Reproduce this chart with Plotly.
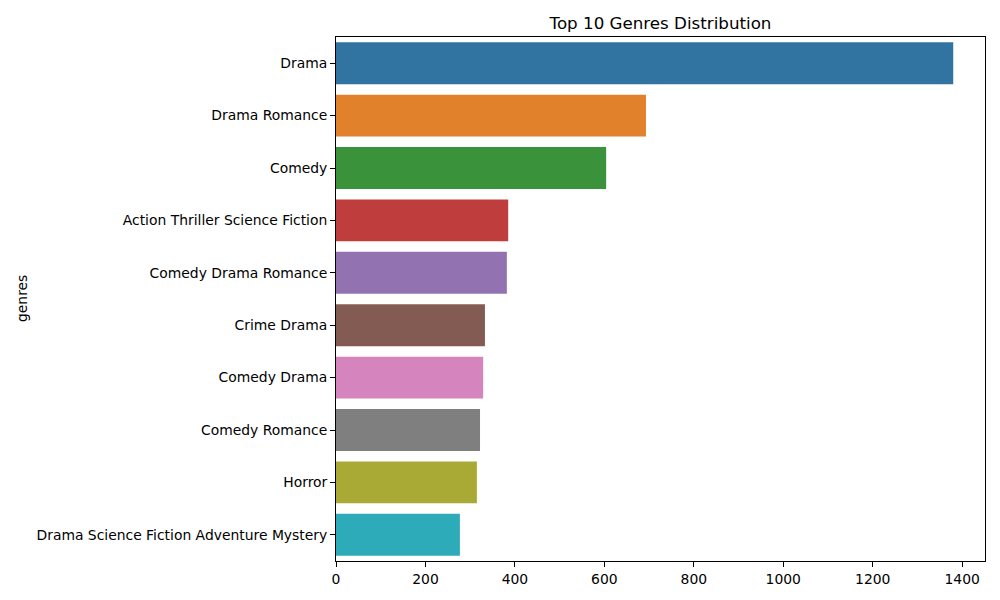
import plotly.graph_objects as go

genres = ["Drama", "Drama Romance", "Comedy", "Action Thriller Science Fiction",
          "Comedy Drama Romance", "Crime Drama", "Comedy Drama", "Comedy Romance",
          "Horror", "Drama Science Fiction Adventure Mystery"]
counts = [1380, 693, 604, 385, 382, 333, 329, 322, 315, 277]
colors = ["#3274a1", "#e1812c", "#3a923a", "#c03d3e", "#9372b2",
          "#845b53", "#d684bd", "#7f7f7f", "#a9aa35", "#2eabb8"]
x_ticks = [0, 200, 400, 600, 800, 1000, 1200, 1400]

fig = go.Figure(go.Bar(
    x=counts, y=genres, orientation="h",
    marker=dict(color=colors, line=dict(width=0)),
    width=0.8,
))

font = "DejaVu Sans"
# page body has an 8px default margin, so shrink figure accordingly
fig.update_layout(
    width=992, height=592,
    margin=dict(l=328, r=15, t=29, b=39, autoexpand=False),
    paper_bgcolor="white", plot_bgcolor="white",
    font=dict(family=font, size=13.9, color="black"),
    title=dict(text="Top 10 Genres Distribution", x=(660.5 - 8) / 992, xanchor="center",
               y=1 - 15 / 592, yanchor="middle",
               font=dict(family=font, size=16.7, color="black")),
    showlegend=False,
    bargap=0.2,
)
fig.update_xaxes(
    range=[0, 1451], tickvals=x_ticks, ticktext=[str(v) for v in x_ticks],
    showgrid=False, zeroline=False, showline=True, linecolor="black", linewidth=1.1,
    mirror=True, ticks="outside", ticklen=4.9, tickwidth=1.1, tickcolor="black",
    tickfont=dict(family=font, size=13.9, color="black"),
)
fig.update_yaxes(
    categoryorder="array", categoryarray=genres,
    range=[9.5, -0.5],
    showgrid=False, zeroline=False, showline=True, linecolor="black", linewidth=1.1,
    mirror=True, ticks="outside", ticklen=4.9, tickwidth=1.1, tickcolor="black",
    tickfont=dict(family=font, size=13.9, color="black"),
)
fig.add_annotation(text="genres", xref="paper", yref="paper",
                   x=-(336 - 22) / 649, y=0.5, xanchor="center", yanchor="middle",
                   textangle=-90, showarrow=False,
                   font=dict(family=font, size=13.9, color="black"))

fig.write_html("out.html")
